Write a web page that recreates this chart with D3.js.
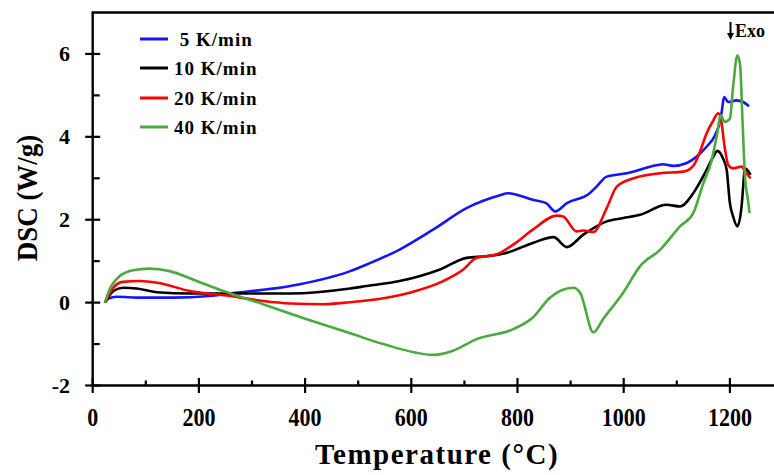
<!DOCTYPE html>
<html>
<head>
<meta charset="utf-8">
<script src="https://cdn.jsdelivr.net/npm/d3@7"></script>
<style>
  body { margin: 0; background: #fff; }
  text { font-family: "Liberation Serif", "DejaVu Serif", serif; font-weight: bold; }
</style>
</head>
<body>
<div id="chart"></div>
<script>
// series names and colours
const seriesNames = [' 5 K/min', '10 K/min', '20 K/min', '40 K/min'];
const seriesColors = ['#1414ff', '#000000', '#ff0000', '#4aaa3f'];

// 5 K/min
const temp5 = [23, 30, 45, 90, 150, 220, 258, 372, 485, 516, 578, 641, 704, 767, 782, 829, 854, 871, 893, 936, 949, 968, 1006, 1050, 1074, 1093, 1119, 1137, 1156, 1172, 1181, 1185, 1189, 1197, 1212, 1225, 1236];
const dsc5 = [0, 0.10, 0.14, 0.12, 0.12, 0.16, 0.22, 0.40, 0.76, 0.92, 1.28, 1.76, 2.28, 2.59, 2.64, 2.48, 2.40, 2.20, 2.40, 2.64, 2.80, 3.04, 3.12, 3.28, 3.34, 3.30, 3.37, 3.52, 3.76, 4.04, 4.36, 4.64, 4.96, 4.84, 4.88, 4.84, 4.74];

// 10 K/min
const temp10 = [23, 39, 57, 83, 121, 183, 258, 372, 485, 516, 578, 654, 704, 742, 779, 829, 868, 893, 924, 968, 999, 1031, 1081, 1106, 1131, 1156, 1170, 1176, 1187, 1194, 1200, 1206, 1214, 1222, 1225, 1228, 1239];
const dsc10 = [0, 0.28, 0.36, 0.34, 0.25, 0.22, 0.22, 0.22, 0.34, 0.40, 0.52, 0.80, 1.08, 1.12, 1.20, 1.44, 1.58, 1.34, 1.64, 1.96, 2.04, 2.12, 2.36, 2.32, 2.64, 3.20, 3.55, 3.66, 3.48, 3.20, 2.40, 2.08, 1.84, 2.32, 2.80, 3.24, 3.08];

// 20 K/min
const temp20 = [23, 39, 57, 89, 121, 183, 258, 321, 372, 434, 485, 516, 597, 660, 698, 723, 760, 792, 829, 874, 886, 911, 924, 943, 968, 987, 1019, 1069, 1112, 1131, 1143, 1156, 1169, 1178, 1184, 1190, 1197, 1206, 1222, 1231, 1239];
const dsc20 = [0, 0.36, 0.50, 0.52, 0.48, 0.28, 0.16, 0.04, -0.02, -0.04, 0.01, 0.05, 0.24, 0.52, 0.80, 1.08, 1.16, 1.40, 1.76, 2.10, 2.08, 1.72, 1.74, 1.70, 2.28, 2.80, 3.00, 3.12, 3.16, 3.30, 3.62, 4.08, 4.40, 4.57, 4.36, 3.76, 3.32, 3.24, 3.28, 3.12, 3.00];

// 40 K/min
const temp40 = [23, 32, 51, 76, 107, 145, 196, 246, 321, 403, 485, 547, 642, 679, 723, 792, 829, 861, 905, 918, 943, 961, 999, 1031, 1069, 1106, 1131, 1150, 1165, 1175, 1183, 1190, 1200, 1206, 1214, 1219, 1224, 1228, 1234, 1237];
const dsc40 = [0, 0.32, 0.64, 0.78, 0.82, 0.76, 0.52, 0.28, -0.04, -0.40, -0.74, -1.00, -1.26, -1.16, -0.88, -0.64, -0.36, 0.12, 0.36, 0.24, -0.72, -0.40, 0.24, 0.88, 1.28, 1.84, 2.16, 2.88, 3.40, 4.00, 4.52, 4.36, 4.44, 5.20, 5.96, 5.76, 4.32, 3.12, 2.48, 2.16];

const xTicks = [0, 200, 400, 600, 800, 1000, 1200];
const xMinorTicks = [100, 300, 500, 700, 900, 1100];
const yTicks = [-2, 0, 2, 4, 6];
const yMinorTicks = [-1, 1, 3, 5];

const temps = [temp5, temp10, temp20, temp40];
const dscs = [dsc5, dsc10, dsc20, dsc40];

const width = 774, height = 475;
const margin = { top: 12.5, right: 0, bottom: 89.5, left: 92.7 };

const svg = d3.select('#chart')
	.append('svg')
	.attr('width', width)
	.attr('height', height);

const x = d3.scaleLinear().domain([0, 1284]).range([margin.left, 774.5]);
const y = d3.scaleLinear().domain([-2, 7]).range([height - margin.bottom, margin.top]);

// curves
const line = d3.line()
	.x(d => x(d[0]))
	.y(d => y(d[1]))
	.curve(d3.curveMonotoneX);

temps.forEach((t, i) => {
	const pts = t.map((v, j) => [v, dscs[i][j]]);
	svg.append('path')
		.datum(pts)
		.attr('fill', 'none')
		.attr('stroke', seriesColors[i])
		.attr('stroke-width', 2.6)
		.attr('stroke-linejoin', 'round')
		.attr('d', line);
});

// frame: left, bottom and top lines
const axisY = y(-2);
svg.append('line')
	.attr('x1', x(0)).attr('x2', x(0))
	.attr('y1', y(7)).attr('y2', axisY)
	.attr('stroke', '#000').attr('stroke-width', 2.4);
svg.append('line')
	.attr('x1', x(0) - 1.2).attr('x2', width)
	.attr('y1', axisY).attr('y2', axisY)
	.attr('stroke', '#000').attr('stroke-width', 2.4);
svg.append('line')
	.attr('x1', x(0) - 1.2).attr('x2', width)
	.attr('y1', y(7)).attr('y2', y(7))
	.attr('stroke', '#000').attr('stroke-width', 2.4);

// x ticks
svg.selectAll('.xmaj')
	.data(xTicks)
	.join('line')
	.attr('x1', d => x(d)).attr('x2', d => x(d))
	.attr('y1', axisY - 7.5).attr('y2', axisY + 7.5)
	.attr('stroke', '#000').attr('stroke-width', 2.2);
svg.selectAll('.xmin')
	.data(xMinorTicks)
	.join('line')
	.attr('x1', d => x(d)).attr('x2', d => x(d))
	.attr('y1', axisY - 5).attr('y2', axisY)
	.attr('stroke', '#000').attr('stroke-width', 2.2);
svg.selectAll('.xlab')
	.data(xTicks)
	.join('text')
	.attr('transform', d => `translate(${x(d)}, 426) scale(1, 1.15)`)
	.attr('text-anchor', 'middle')
	.attr('font-size', 22)
	.text(d => d);

// y ticks
svg.selectAll('.ymaj')
	.data(yTicks)
	.join('line')
	.attr('x1', x(0) - 7.5).attr('x2', x(0) + 7.5)
	.attr('y1', d => y(d)).attr('y2', d => y(d))
	.attr('stroke', '#000').attr('stroke-width', 2.2);
svg.selectAll('.ymin')
	.data(yMinorTicks)
	.join('line')
	.attr('x1', x(0)).attr('x2', x(0) + 7)
	.attr('y1', d => y(d)).attr('y2', d => y(d))
	.attr('stroke', '#000').attr('stroke-width', 2.2);
svg.selectAll('.ylab')
	.data(yTicks)
	.join('text')
	.attr('x', 70)
	.attr('y', d => y(d) + 7.5)
	.attr('text-anchor', 'end')
	.attr('font-size', 22)
	.text(d => d);

// axis titles
svg.append('text')
	.attr('x', 437)
	.attr('y', 464)
	.attr('text-anchor', 'middle')
	.attr('font-size', 29)
	.attr('letter-spacing', 1.5)
	.text('Temperature (°C)');
svg.append('text')
	.attr('transform', 'translate(37, 198) rotate(-90) scale(1, 1.12)')
	.attr('text-anchor', 'middle')
	.attr('font-size', 27)
	.text('DSC (W/g)');

// legend
const legendY = [39, 68, 98, 127];
seriesNames.forEach((name, i) => {
	svg.append('line')
		.attr('x1', 140).attr('x2', 168)
		.attr('y1', legendY[i]).attr('y2', legendY[i])
		.attr('stroke', seriesColors[i]).attr('stroke-width', 3);
	svg.append('text')
		.attr('x', 174)
		.attr('y', legendY[i] + 6.5)
		.attr('font-size', 19)
		.attr('letter-spacing', 1)
		.style('white-space', 'pre')
		.text(name);
});

// exo marker: small down arrow + label
svg.append('line')
	.attr('x1', 730.5).attr('x2', 730.5)
	.attr('y1', 22).attr('y2', 35)
	.attr('stroke', '#000').attr('stroke-width', 2);
svg.append('path')
	.attr('d', 'M727,33 L734,33 L730.5,40 Z')
	.attr('fill', '#000');
svg.append('text')
	.attr('x', 735)
	.attr('y', 37)
	.attr('font-size', 18)
	.text('Exo');
</script>
</body>
</html>
